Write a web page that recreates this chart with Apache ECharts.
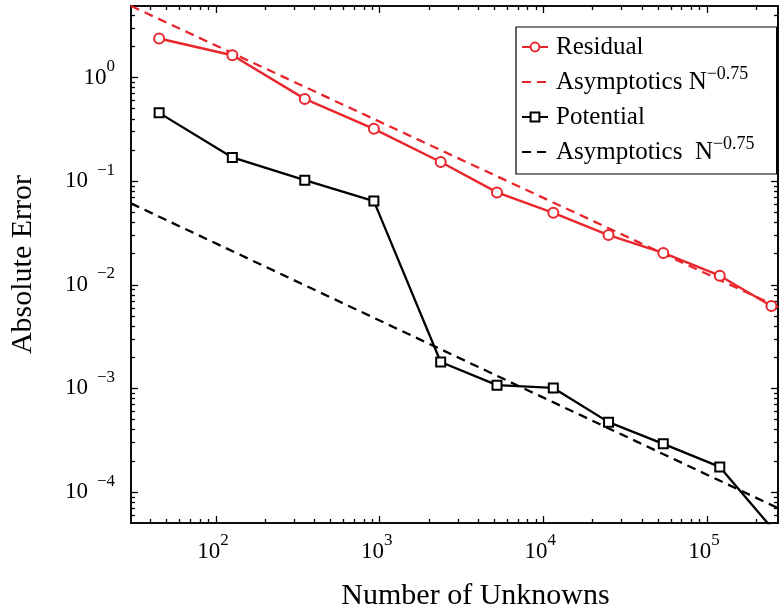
<!DOCTYPE html>
<html>
<head>
<meta charset="utf-8">
<script src="https://cdn.jsdelivr.net/npm/echarts@6/dist/echarts.min.js"></script>
<style>
	html, body { margin: 0; padding: 0; background: #fff; }
	#chart { width: 779px; height: 616px; }
</style>
</head>
<body>
<div id="chart"></div>
<script>
	// number of unknowns for each refinement step
	var unknowns = [45, 126, 349, 922, 2360, 5210, 11500, 25000, 54000, 119500, 247000];
	// absolute errors
	var residual = [2.38, 1.64, 0.622, 0.320, 0.153, 0.0779, 0.0495, 0.0302, 0.0203, 0.01225, 0.00625];
	var potential = [0.456, 0.1694, 0.1023, 0.0642, 0.00180, 0.001075, 0.001012, 0.000473, 0.000292, 0.000175, 0.0000455];
	// N^-0.75 reference lines, end points read at the axis limits
	var asymN = [30.3, 271000];
	var asymResidual = [4.9, 0.0061];
	var asymPotential = [0.061, 0.00007];

	// tick positions
	var xMajorTicks = [100, 1000, 10000, 100000];
	var xMinorTicks = [40, 50, 60, 70, 80, 90,
		200, 300, 400, 500, 600, 700, 800, 900,
		2000, 3000, 4000, 5000, 6000, 7000, 8000, 9000,
		20000, 30000, 40000, 50000, 60000, 70000, 80000, 90000,
		200000];
	var yMajorTicks = [1e-4, 1e-3, 1e-2, 1e-1, 1];
	var yMinorTicks = [6e-5, 7e-5, 8e-5, 9e-5,
		2e-4, 3e-4, 4e-4, 5e-4, 6e-4, 7e-4, 8e-4, 9e-4,
		2e-3, 3e-3, 4e-3, 5e-3, 6e-3, 7e-3, 8e-3, 9e-3,
		0.02, 0.03, 0.04, 0.05, 0.06, 0.07, 0.08, 0.09,
		0.2, 0.3, 0.4, 0.5, 0.6, 0.7, 0.8, 0.9,
		2, 3, 4];

	var xRange = [30.3, 271000];
	var yRange = [5.03e-5, 4.9];

	var red = '#e8262b';
	var serif = 'Liberation Serif';

	function zip(xs, ys) {
		var out = [];
		for (var i = 0; i < xs.length; i++) out.push([xs[i], ys[i]]);
		return out;
	}

	// 10^k labels with a raised exponent
	function powLabel(v) {
		var e = Math.round(Math.log10(v));
		if (e < 0) return '{b|10}{n|\u2212' + (-e) + '}';
		return '{b|10}{s|' + e + '}';
	}

	var labelRich = {
		b: { fontFamily: serif, fontSize: 23, lineHeight: 39, color: '#000' },
		s: { fontFamily: serif, fontSize: 17, lineHeight: 17, verticalAlign: 'top', color: '#000' },
		n: { fontFamily: serif, fontSize: 17, lineHeight: 17, verticalAlign: 'top', color: '#000', padding: [0, 0, 0, 9] }
	};

	// one log axis: line, ticks (major or minor) and maybe labels
	function logAxis(position, range, ticks, tickLen, withLabels, margin) {
		return {
			type: 'log',
			position: position,
			min: range[0],
			max: range[1],
			offset: 0,
			axisLine: { show: true, onZero: false, lineStyle: { color: '#000', width: 1.6 } },
			axisTick: { show: true, inside: true, length: tickLen, customValues: ticks,
				lineStyle: { color: '#000', width: 1.3 } },
			axisLabel: withLabels ? {
				show: true, customValues: ticks, margin: margin,
				formatter: powLabel, rich: labelRich,
				padding: position === 'bottom' ? [0, 6, 0, 0] : 0
			} : { show: false },
			splitLine: { show: false },
			minorTick: { show: false },
			silent: true
		};
	}

	var xAxes = [
		logAxis('bottom', xRange, xMajorTicks, 7, true, 9),
		logAxis('bottom', xRange, xMinorTicks, 4, false),
		logAxis('top', xRange, xMajorTicks, 7, false),
		logAxis('top', xRange, xMinorTicks, 4, false)
	];
	xAxes[0].name = 'Number of Unknowns';
	xAxes[0].nameLocation = 'middle';
	xAxes[0].nameGap = 58;
	xAxes[0].nameTextStyle = { fontFamily: serif, fontSize: 30, color: '#000', padding: [0, 0, 0, 42] };

	var yAxes = [
		logAxis('left', yRange, yMajorTicks, 7, true, 16),
		logAxis('left', yRange, yMinorTicks, 4, false),
		logAxis('right', yRange, yMajorTicks, 7, false),
		logAxis('right', yRange, yMinorTicks, 4, false)
	];
	yAxes[0].name = 'Absolute Error';
	yAxes[0].nameLocation = 'middle';
	yAxes[0].nameGap = 93;
	yAxes[0].nameTextStyle = { fontFamily: serif, fontSize: 30, color: '#000' };

	var legendText = {
		'Residual': '{t|Residual}',
		'AsymR': '{t|Asymptotics N}{s|\u22120.75}',
		'Potential': '{t|Potential}',
		'AsymP': '{t|Asymptotics  N}{s|\u22120.75}'
	};

	var option = {
		animation: false,
		backgroundColor: '#fff',
		grid: { left: 130, right: 1, top: 6, bottom: 93, containLabel: false },
		legend: {
			orient: 'vertical',
			left: 516,
			top: 27,
			padding: [3, 22, 5, 5],
			itemWidth: 26,
			itemHeight: 11,
			itemGap: 1,
			backgroundColor: '#fff',
			borderColor: '#000',
			borderWidth: 1.2,
			borderRadius: 0,
			data: [
				'Residual',
				{ name: 'AsymR', itemStyle: { opacity: 0 } },
				'Potential',
				{ name: 'AsymP', itemStyle: { opacity: 0 } }
			],
			formatter: function (name) { return legendText[name]; },
			textStyle: {
				fontFamily: serif, fontSize: 25, lineHeight: 34, color: '#000', padding: [0, 0, 0, 3],
				rich: {
					t: { fontFamily: serif, fontSize: 25, lineHeight: 34, color: '#000' },
					s: { fontFamily: serif, fontSize: 18, lineHeight: 18, verticalAlign: 'top', color: '#000' }
				}
			}
		},
		xAxis: xAxes,
		yAxis: yAxes,
		series: [{
				name: 'Residual',
				type: 'line',
				data: zip(unknowns, residual),
				symbol: 'emptyCircle',
				symbolSize: 10,
				color: red,
				lineStyle: { color: red, width: 2.4 },
				itemStyle: { color: red, borderWidth: 2.2 },
				silent: true,
				z: 4
			},
			{
				name: 'AsymR',
				type: 'line',
				data: zip(asymN, asymResidual),
				symbol: 'none',
				color: red,
				lineStyle: { color: red, width: 2.3, type: [9, 6] },
				silent: true,
				z: 3
			},
			{
				name: 'Potential',
				type: 'line',
				data: zip(unknowns, potential),
				symbol: 'emptyRect',
				symbolSize: 9,
				color: '#000',
				lineStyle: { color: '#000', width: 2.3 },
				itemStyle: { color: '#000', borderWidth: 2.2 },
				silent: true,
				z: 4
			},
			{
				name: 'AsymP',
				type: 'line',
				data: zip(asymN, asymPotential),
				symbol: 'none',
				color: '#000',
				lineStyle: { color: '#000', width: 2.3, type: [9, 6] },
				silent: true,
				z: 3
			}
		]
	};

	var chart = echarts.init(document.getElementById('chart'));
	chart.setOption(option);
</script>
</body>
</html>
